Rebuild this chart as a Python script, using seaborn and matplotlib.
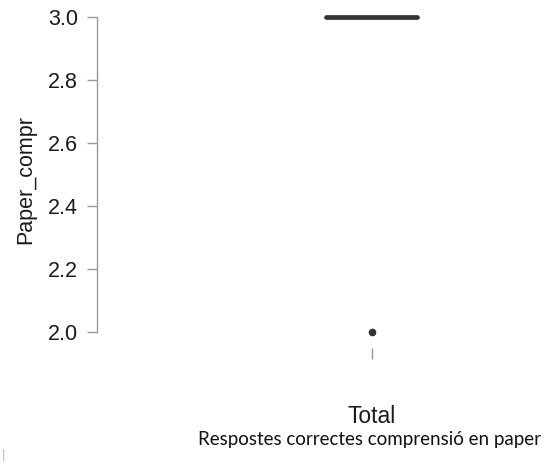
import matplotlib
matplotlib.use("Agg")
import matplotlib.pyplot as plt
import seaborn as sns
import pandas as pd

# Data (all responses correct = 3 except one outlier at 2)
group = "Total"
paper_compr = [3, 3, 3, 3, 3, 3, 3, 3, 3, 3, 3, 3, 3, 3, 3, 3, 3, 3, 3, 3, 2]
y_ticks = [2.0, 2.2, 2.4, 2.6, 2.8, 3.0]
y_label = "Paper_compr"
caption = "Respostes correctes comprensió en paper"

df = pd.DataFrame({"grp": [group] * len(paper_compr), "Paper_compr": paper_compr})

sns.set_style("white")
plt.rcParams["font.family"] = ["Liberation Sans", "DejaVu Sans"]

fig = plt.figure(figsize=(5.44, 4.66), dpi=100)
ax = fig.add_axes([97 / 544, 118 / 466, 433 / 544, 337 / 466])

sns.boxplot(
    data=df, x="grp", y="Paper_compr", ax=ax, width=0.4,
    color="white", linecolor="#333333", linewidth=2.0,
    medianprops=dict(linewidth=3.4, color="#333333", solid_capstyle="round"),
    flierprops=dict(marker="o", markersize=4.5, markerfacecolor="#333333",
                    markeredgecolor="#333333"),
)

ax.set_xlim(-1.209, 0.695)
ax.set_ylim(1.949, 3.02)
ax.set_yticks(y_ticks)
ax.set_yticklabels([f"{v:.1f}" for v in y_ticks])

for s in ["top", "right", "bottom"]:
    ax.spines[s].set_visible(False)
ax.spines["left"].set_color("#9a9a9a")
ax.spines["left"].set_linewidth(1.0)
ax.spines["left"].set_bounds(2.0, 3.0)

ax.tick_params(axis="y", direction="out", length=7.2, width=1.0, color="#9a9a9a",
               labelsize=15.5, pad=6.5, left=True, labelcolor="#1a1a1a")
ax.tick_params(axis="x", direction="out", length=8, width=1.0, color="#9a9a9a",
               labelsize=16.5, pad=33, bottom=True, labelcolor="#1a1a1a")

ax.set_xlabel("")
ax.set_ylabel(y_label, fontsize=15.5, labelpad=8, color="#1a1a1a")

fig.text(369 / 544, 1 - 440 / 466, caption, ha="center", va="center",
         fontsize=13.5, family=["Lato", "DejaVu Sans"], color="#111111")
fig.text(0.003, 1 - 455 / 466, "|", ha="left", va="center", fontsize=9,
         color="#bbbbbb")

fig.savefig("out.png", dpi=100)
